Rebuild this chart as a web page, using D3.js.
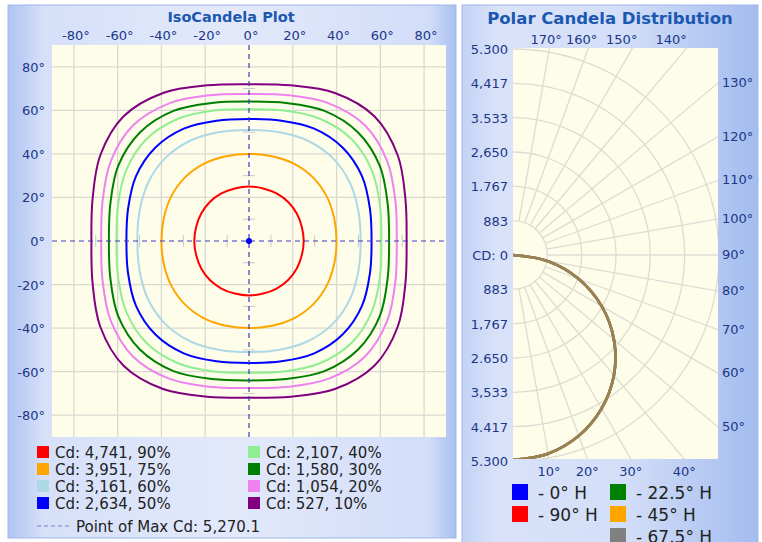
<!DOCTYPE html>
<html>
<head>
<meta charset="utf-8">
<script src="https://cdnjs.cloudflare.com/ajax/libs/d3/7.8.5/d3.min.js"></script>
<style>
body { margin: 0; background: #fff; }
svg { display: block; font-family: "DejaVu Sans", sans-serif; }
</style>
</head>
<body>
<svg id="chart" width="762" height="542"></svg>
<script>
// ---- IsoCandela data ----
// contour radius (deg) read in the first quadrant, at these directions; plot is symmetric
const isoAngles = [0, 15, 30, 45, 60, 75, 90];
const isoLabels = ['Cd: 4,741, 90%', 'Cd: 3,951, 75%', 'Cd: 3,161, 60%', 'Cd: 2,634, 50%',
                   'Cd: 2,107, 40%', 'Cd: 1,580, 30%', 'Cd: 1,054, 20%', 'Cd: 527, 10%'];
const isoColors = ['#ff0000', '#ffa500', '#add8e6', '#0000ff', '#90ee90', '#008000', '#ee82ee', '#800080'];
const isoRadii = [
    [25, 25, 25.2, 25.3, 25.2, 25, 25],
    [40, 40.3, 41, 41.3, 41, 40.3, 40],
    [51, 51.8, 53.3, 54, 53.3, 51.8, 51],
    [56, 57.2, 59.6, 60.6, 59.6, 57.2, 56],
    [60.5, 62, 64.8, 66.2, 64.8, 62, 60.5],
    [64, 65.6, 69, 70.5, 69, 65.6, 64],
    [67.5, 69.3, 73, 75, 73, 69.3, 67.5],
    [72, 74, 78.5, 81, 78.5, 74, 72]
];
const isoTicks = [-80, -60, -40, -20, 0, 20, 40, 60, 80];
const centerTicks = [-70, -50, -30, -10, 10, 30, 50, 70];
const maxCdLabel = 'Point of Max Cd: 5,270.1';

// ---- Polar data ----
const polarAngles = [0, 10, 20, 30, 40, 50, 60, 70, 80, 90];
const cd0 = [5270, 5190, 4950, 4560, 4040, 3390, 2635, 1800, 915, 0];
const cd90 = [5270, 5190, 4950, 4560, 4040, 3390, 2635, 1800, 915, 0];
const cd22 = [5270, 5190, 4950, 4560, 4040, 3390, 2635, 1800, 915, 0];
const cd45 = [5270, 5190, 4950, 4560, 4040, 3390, 2635, 1800, 915, 0];
const cd67 = [5270, 5190, 4950, 4560, 4040, 3390, 2635, 1800, 915, 0];
const polarNames = ['- 0° H', '- 90° H', '- 22.5° H', '- 45° H', '- 67.5° H'];
const polarColors = ['#0000ff', '#ff0000', '#008000', '#ffa500', '#808080'];
const polarValues = [cd0, cd90, cd22, cd45, cd67];
const radialTicks = [883, 1767, 2650, 3533, 4417, 5300];
const radialLabelsUp = ['883', '1.767', '2,650', '3.533', '4,417', '5.300'];
const radialLabelsDown = ['883', '1,767', '2.650', '3,533', '4.417', '5.300'];
const angleTicks = [10, 20, 30, 40, 50, 60, 70, 80, 90, 100, 110, 120, 130, 140, 150, 160, 170];

const svg = d3.select('#chart');
const defs = svg.append('defs');

function panelGradient(id, stops) {
    const g = defs.append('linearGradient').attr('id', id)
        .attr('x1', '0%').attr('y1', '0%').attr('x2', '100%').attr('y2', '0%');
    stops.forEach(s => g.append('stop').attr('offset', s[0]).attr('stop-color', s[1]));
}
panelGradient('bgLeft', [['0%', '#aec4f2'], ['8%', '#d6e0f9'], ['50%', '#e3e9fb'], ['94%', '#d2ddf8'], ['100%', '#a8bff0']]);
panelGradient('bgRight', [['0%', '#c3d3f5'], ['12%', '#d9e2f9'], ['55%', '#d3def8'], ['100%', '#a3bcef']]);

// ================= IsoCandela panel =================
svg.append('rect').attr('x', 8).attr('y', 5).attr('width', 448).attr('height', 533)
    .attr('fill', 'url(#bgLeft)').attr('stroke', '#9fb6ea');

const iso = { left: 52, right: 446, top: 45, bottom: 437 };
const x = d3.scaleLinear().domain([-90, 90]).range([iso.left, iso.right]);
const y = d3.scaleLinear().domain([-90, 90]).range([iso.bottom, iso.top]);

svg.append('text').attr('x', 231).attr('y', 22).attr('text-anchor', 'middle')
    .attr('font-size', 14.5).attr('font-weight', 'bold').attr('fill', '#1b58b0')
    .text('IsoCandela Plot');

svg.append('rect').attr('x', iso.left).attr('y', iso.top)
    .attr('width', iso.right - iso.left).attr('height', iso.bottom - iso.top)
    .attr('fill', '#fefdea');

const gIso = svg.append('g');
// grid
gIso.selectAll('.vg').data(isoTicks.filter(d => d !== 0)).join('line')
    .attr('x1', d => x(d)).attr('x2', d => x(d)).attr('y1', iso.top).attr('y2', iso.bottom)
    .attr('stroke', '#d9d9d2').attr('stroke-width', 1.3);
gIso.selectAll('.hg').data(isoTicks.filter(d => d !== 0)).join('line')
    .attr('y1', d => y(d)).attr('y2', d => y(d)).attr('x1', iso.left).attr('x2', iso.right)
    .attr('stroke', '#d9d9d2').attr('stroke-width', 1.3);

// small ticks along the center axes
gIso.selectAll('.ct1').data(centerTicks).join('line')
    .attr('x1', d => x(d)).attr('x2', d => x(d)).attr('y1', y(0) - 6).attr('y2', y(0) + 6)
    .attr('stroke', '#c8c8c8');
gIso.selectAll('.ct2').data(centerTicks).join('line')
    .attr('y1', d => y(d)).attr('y2', d => y(d)).attr('x1', x(0) - 6).attr('x2', x(0) + 6)
    .attr('stroke', '#c8c8c8');

// axis labels
gIso.selectAll('.xl').data(isoTicks).join('text')
    .attr('x', d => x(d) + 2).attr('y', 40).attr('text-anchor', 'middle')
    .attr('font-size', 13).attr('fill', '#1a3788').text(d => d + '°');
gIso.selectAll('.yl').data(isoTicks).join('text')
    .attr('x', 45).attr('y', d => y(d) + 5).attr('text-anchor', 'end')
    .attr('font-size', 13).attr('fill', '#1a3788').text(d => d + '°');

// contours
function contourPoints(radii) {
    const pts = [];
    for (let a = 0; a < 360; a += 15) {
        const m = a % 180;
        const phi = m <= 90 ? m : 180 - m;
        const rr = radii[isoAngles.indexOf(phi)];
        const rad = a * Math.PI / 180;
        pts.push([rr * Math.cos(rad), rr * Math.sin(rad)]);
    }
    return pts;
}
const contourLine = d3.line().x(d => x(d[0])).y(d => y(d[1])).curve(d3.curveCatmullRomClosed);
gIso.selectAll('.contour').data(isoRadii).join('path')
    .attr('d', d => contourLine(contourPoints(d)))
    .attr('fill', 'none').attr('stroke', (d, i) => isoColors[i]).attr('stroke-width', 2);

// dashed axes and max point
gIso.append('line').attr('x1', iso.left).attr('x2', iso.right).attr('y1', y(0)).attr('y2', y(0))
    .attr('stroke', '#3a3ac0').attr('stroke-dasharray', '5,4').attr('stroke-width', 1.2);
gIso.append('line').attr('x1', x(0)).attr('x2', x(0)).attr('y1', iso.top).attr('y2', iso.bottom)
    .attr('stroke', '#3a3ac0').attr('stroke-dasharray', '5,4').attr('stroke-width', 1.2);
gIso.append('circle').attr('cx', x(0)).attr('cy', y(0)).attr('r', 3).attr('fill', '#0000ee');

// legend
const isoLeg = svg.append('g').attr('font-size', 15).attr('fill', '#222');
isoLabels.forEach((lab, i) => {
    const col = Math.floor(i / 4), row = i % 4;
    const lx = 37 + col * 211, ly = 452 + row * 17;
    isoLeg.append('rect').attr('x', lx).attr('y', ly - 6).attr('width', 12).attr('height', 12)
        .attr('fill', isoColors[i]);
    isoLeg.append('text').attr('x', lx + 18).attr('y', ly + 5.5).text(lab);
});
isoLeg.append('line').attr('x1', 37).attr('x2', 70).attr('y1', 526).attr('y2', 526)
    .attr('stroke', '#7c7cc0').attr('stroke-dasharray', '4,3');
isoLeg.append('text').attr('x', 76).attr('y', 531.5).text(maxCdLabel);

// ================= Polar panel =================
svg.append('rect').attr('x', 462).attr('y', 5).attr('width', 296).attr('height', 545)
    .attr('fill', 'url(#bgRight)').attr('stroke', '#9fb6ea');

const pol = { left: 513, right: 718, top: 48, bottom: 459 };
const cx = 513, cy = 255;
const r = d3.scaleLinear().domain([0, 5300]).range([0, 206]);

svg.append('text').attr('x', 610).attr('y', 24).attr('text-anchor', 'middle')
    .attr('font-size', 16.5).attr('font-weight', 'bold').attr('fill', '#1b58b0')
    .text('Polar Candela Distribution');

defs.append('clipPath').attr('id', 'polClip').append('rect')
    .attr('x', pol.left).attr('y', pol.top)
    .attr('width', pol.right - pol.left).attr('height', pol.bottom - pol.top);

svg.append('rect').attr('x', pol.left).attr('y', pol.top)
    .attr('width', pol.right - pol.left).attr('height', pol.bottom - pol.top)
    .attr('fill', '#fefdea');

const gPol = svg.append('g').attr('clip-path', 'url(#polClip)');
const pt = (deg, v) => {
    const a = deg * Math.PI / 180;
    return [cx + r(v) * Math.sin(a), cy + r(v) * Math.cos(a)];
};

// arcs
const arc = d3.arc().startAngle(0).endAngle(Math.PI);
gPol.selectAll('.arc').data(radialTicks).join('path')
    .attr('transform', `translate(${cx},${cy})`)
    .attr('d', d => arc({ innerRadius: r(d), outerRadius: r(d) }))
    .attr('fill', 'none').attr('stroke', '#dcdcd4').attr('stroke-width', 1.3);
// spokes
gPol.selectAll('.spoke').data(angleTicks).join('line')
    .attr('x1', d => pt(d, radialTicks[0])[0]).attr('y1', d => pt(d, radialTicks[0])[1])
    .attr('x2', d => pt(d, 9000)[0]).attr('y2', d => pt(d, 9000)[1])
    .attr('stroke', '#dcdcd4').attr('stroke-width', 1.3);

// candela curves
const polarLine = d3.line().curve(d3.curveCatmullRom);
polarValues.forEach((vals, i) => {
    gPol.append('path')
        .attr('d', polarLine(polarAngles.map((a, j) => pt(a, vals[j]))))
        .attr('fill', 'none').attr('stroke', polarColors[i])
        .attr('stroke-width', 2.6).attr('stroke-opacity', 0.6);
});

// radial labels
const gLab = svg.append('g').attr('font-size', 13).attr('fill', '#1a3788');
radialTicks.forEach((v, i) => {
    gLab.append('text').attr('x', 508).attr('y', cy - r(v) + 5).attr('text-anchor', 'end').text(radialLabelsUp[i]);
    gLab.append('text').attr('x', 508).attr('y', cy + r(v) + 5).attr('text-anchor', 'end').text(radialLabelsDown[i]);
});
gLab.append('text').attr('x', 508).attr('y', cy + 5).attr('text-anchor', 'end').text('CD: 0');

// angle labels where each spoke leaves the plot
angleTicks.forEach(d => {
    const a = d * Math.PI / 180, sx = Math.sin(a), sy = Math.cos(a);
    const tx = (pol.right - cx) / sx;
    const ty = sy > 0 ? (pol.bottom - cy) / sy : (pol.top - cy) / sy;
    const t = Math.min(tx, ty);
    const ex = cx + t * sx, ey = cy + t * sy;
    const label = gLab.append('text').text(d + '°');
    if (tx <= ty) {
        label.attr('x', pol.right + 4).attr('y', ey + 4);
    } else if (sy > 0) {
        label.attr('x', ex).attr('y', pol.bottom + 17).attr('text-anchor', 'middle');
    } else {
        label.attr('x', ex - (ex - cx) * 0.09).attr('y', 44).attr('text-anchor', 'middle');
    }
});

// polar legend
const polLeg = svg.append('g').attr('font-size', 17).attr('fill', '#222');
polarNames.forEach((name, i) => {
    const col = i < 2 ? 0 : 1, row = i < 2 ? i : i - 2;
    const lx = 512 + col * 98, ly = 492 + row * 22;
    polLeg.append('rect').attr('x', lx).attr('y', ly - 8).attr('width', 16).attr('height', 16)
        .attr('fill', polarColors[i]);
    polLeg.append('text').attr('x', lx + 26).attr('y', ly + 6.5).text(name);
});
</script>
</body>
</html>
